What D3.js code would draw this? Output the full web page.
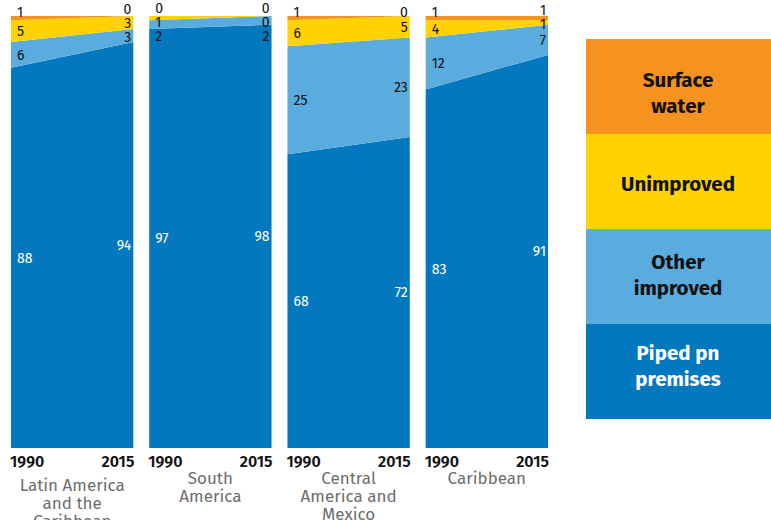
<!DOCTYPE html>
<html>
<head>
<meta charset="utf-8">
<script src="https://cdn.jsdelivr.net/npm/d3@7/dist/d3.min.js"></script>
<style>
  html, body { margin: 0; padding: 0; background: #fff; }
  svg { display: block; }
</style>
</head>
<body>
<svg id="chart" width="771" height="520"></svg>
<script>
// Drinking water coverage (%) by service level, 1990 vs 2015
const regions = ["Latin America and the Caribbean", "South America", "Central America and Mexico", "Caribbean"];
const regionLines = [["Latin America", "and the", "Caribbean"], ["South", "America"], ["Central", "America and", "Mexico"], ["Caribbean"]];
const years = [1990, 2015];
const levels = ["piped", "other", "unimproved", "surface"];
const levelNames = ["Piped pn premises", "Other improved", "Unimproved", "Surface water"];
const legendLines = [["Piped pn", "premises"], ["Other", "improved"], ["Unimproved"], ["Surface", "water"]];
const colors = ["#0478be", "#5aacdf", "#ffd200", "#f6921e"];
const labelColors = ["#ffffff", "#111111", "#111111", "#111111"];

// values per region: [1990, 2015]
const piped      = [[88, 94], [97, 98], [68, 72], [83, 91]];
const other      = [[6, 3],   [2, 2],   [25, 23], [12, 7]];
const unimproved = [[5, 3],   [1, 0],   [6, 5],   [4, 1]];
const surface    = [[1, 0],   [0, 0],   [1, 0],   [1, 1]];
const series = [piped, other, unimproved, surface];

const svg = d3.select("#chart");
const font = "'Fira Sans', 'Open Sans', 'Noto Sans', sans-serif";

const panel = d3.scaleBand().domain(regions).range([11, 548]).paddingInner(0.115).paddingOuter(0);
const y = d3.scaleLinear().domain([0, 100]).range([448, 16]);

// spread label positions so that neighbours keep a minimum gap,
// merging crowded labels into clusters centred on their ideal positions
function spread(ideals, gap, minY) {
  let clusters = ideals.map((v, i) => ({ start: v, items: [i] }));
  let merged = true;
  while (merged) {
    merged = false;
    for (let k = 0; k < clusters.length - 1; k++) {
      const a = clusters[k], b = clusters[k + 1];
      const aEnd = a.start + (a.items.length - 1) * gap;
      if (b.start < aEnd + gap) {
        const items = a.items.concat(b.items);
        const mean = d3.mean(items, i => ideals[i]);
        const start = mean - (items.length - 1) * gap / 2;
        clusters.splice(k, 2, { start, items });
        merged = true;
        break;
      }
    }
  }
  const out = [];
  let floor = minY;
  clusters.forEach(c => {
    const s = Math.max(c.start, floor);
    c.items.forEach((i, j) => { out[i] = s + j * gap; });
    floor = s + c.items.length * gap;
  });
  return out;
}

const regionShift = [7, 0, 0, 0];

regions.forEach((reg, ri) => {
  const g = svg.append("g").attr("transform", `translate(${panel(reg)},0)`);
  const x = d3.scaleLinear().domain([1990, 2015]).range([0, panel.bandwidth()]);

  const rows = years.map((yr, yi) => {
    const o = { year: yr };
    levels.forEach((lv, li) => { o[lv] = series[li][ri][yi]; });
    return o;
  });
  const stacked = d3.stack().keys(levels)(rows);

  const area = d3.area()
    .x(d => x(d.data.year))
    .y0(d => y(d[0]))
    .y1(d => y(d[1]));

  g.selectAll("path.layer").data(stacked).join("path")
    .attr("class", "layer")
    .attr("d", area)
    .attr("fill", (d, i) => colors[i]);

  // value labels at each end of the panel
  years.forEach((yr, yi) => {
    const order = d3.range(levels.length).reverse(); // top to bottom
    const ideals = order.map(li => {
      const seg = stacked[li][yi];
      const c = (y(seg[0]) + y(seg[1])) / 2;
      return li === levels.length - 1 ? y(100) - 4 : c;
    });
    const ys = spread(ideals, 14, 8);
    order.forEach((li, k) => {
      g.append("text")
        .attr("x", yi === 0 ? x(yr) + 6 : x(yr) - 2)
        .attr("y", ys[k])
        .attr("dy", "0.35em")
        .attr("text-anchor", yi === 0 ? "start" : "end")
        .attr("font-family", font)
        .attr("font-size", 14)
        .attr("fill", labelColors[li])
        .text(series[li][ri][yi]);
    });
  });

  // year ticks
  years.forEach((yr, yi) => {
    g.append("text")
      .attr("x", yi === 0 ? x(yr) - 1 : x(yr) + 1)
      .attr("y", 467)
      .attr("text-anchor", yi === 0 ? "start" : "end")
      .attr("font-family", font)
      .attr("font-size", 16)
      .attr("font-weight", 600)
      .attr("fill", "#111")
      .text(yr);
  });

  // region name
  const t = g.append("text")
    .attr("x", panel.bandwidth() / 2)
    .attr("y", 484 + regionShift[ri])
    .attr("text-anchor", "middle")
    .attr("font-family", font)
    .attr("font-size", 17)
    .attr("fill", "#6d6d6d");
  regionLines[ri].forEach((ln, k) => {
    t.append("tspan").attr("x", panel.bandwidth() / 2).attr("dy", k === 0 ? 0 : 18).text(ln);
  });
});

// legend: stacked colour blocks, top = surface water
const legendY = d3.scaleBand().domain(d3.range(4).reverse()).range([39, 419]);
const legendTextY = d3.scaleBand().domain(d3.range(4).reverse()).range([47, 411]);
const lg = svg.append("g");
d3.range(4).forEach(i => {
  const top = legendY(i);
  const h = legendY.bandwidth();
  lg.append("rect")
    .attr("x", 586).attr("y", top)
    .attr("width", 185).attr("height", h)
    .attr("fill", colors[i]);
  const lines = legendLines[i];
  const lh = 26;
  const cy = legendTextY(i) + legendTextY.bandwidth() / 2;
  const t = lg.append("text")
    .attr("x", 678)
    .attr("y", cy - (lines.length - 1) * lh / 2)
    .attr("text-anchor", "middle")
    .attr("font-family", font)
    .attr("font-size", 20.5)
    .attr("font-weight", 700)
    .attr("fill", i === 0 ? "#ffffff" : "#111111");
  lines.forEach((ln, k) => {
    t.append("tspan").attr("x", 678).attr("dy", k === 0 ? "0.35em" : lh).text(ln);
  });
});
</script>
</body>
</html>
